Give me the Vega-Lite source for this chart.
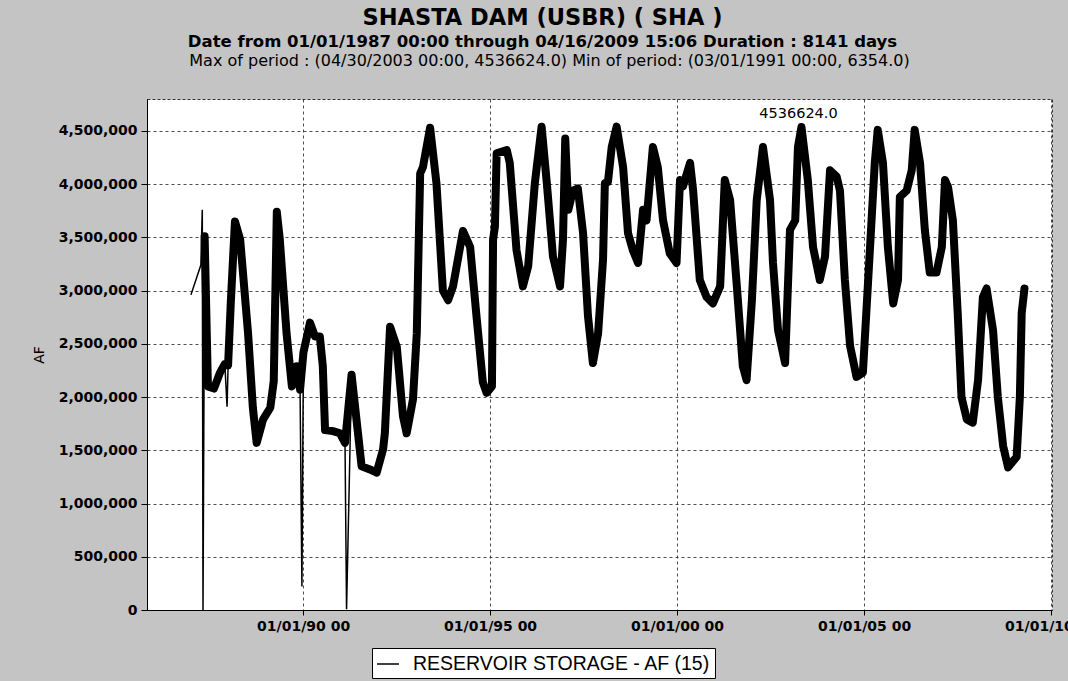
{
  "$schema": "https://vega.github.io/schema/vega-lite/v6.json",
  "width": 905,
  "height": 511,
  "autosize": {"type": "none"},
  "padding": {"left": 147, "top": 99, "right": 16, "bottom": 71},
  "background": "#c4c4c4",
  "config": {
    "view": {"fill": "white", "stroke": "#333333", "strokeDash": [3, 2]},
    "font": "DejaVu Sans"
  },
  "title": {
    "text": "SHASTA DAM  (USBR) ( SHA )",
    "subtitle": "Date from 01/01/1987 00:00 through 04/16/2009 15:06 Duration : 8141 days",
    "font": "DejaVu Sans",
    "fontSize": 22.5,
    "fontWeight": "bold",
    "color": "black",
    "subtitleFont": "DejaVu Sans",
    "subtitleFontSize": 16.5,
    "subtitleFontWeight": "bold",
    "subtitleColor": "black",
    "subtitlePadding": 4,
    "anchor": "middle",
    "frame": "group",
    "dx": -57,
    "offset": 2
  },
  "datasets": {
    "storage": [
      {"date": "1987-01-01", "af": 2960000, "kind": "spike"},
      {"date": "1987-04-08", "af": 3240000, "kind": "spike"},
      {"date": "1987-04-22", "af": 3760000, "kind": "spike"},
      {"date": "1987-04-29", "af": 0, "kind": "spike"},
      {"date": "1987-05-15", "af": 3510000},
      {"date": "1987-06-16", "af": 2100000},
      {"date": "1987-08-14", "af": 2080000},
      {"date": "1987-10-12", "af": 2230000},
      {"date": "1987-11-28", "af": 2310000},
      {"date": "1987-12-20", "af": 1910000, "kind": "spike"},
      {"date": "1987-12-30", "af": 2300000},
      {"date": "1988-01-26", "af": 2900000},
      {"date": "1988-03-06", "af": 3650000},
      {"date": "1988-04-26", "af": 3480000},
      {"date": "1988-07-12", "af": 2600000},
      {"date": "1988-08-28", "af": 1900000},
      {"date": "1988-10-04", "af": 1570000},
      {"date": "1988-12-06", "af": 1790000},
      {"date": "1989-02-14", "af": 1900000},
      {"date": "1989-03-20", "af": 2150000},
      {"date": "1989-04-19", "af": 3740000},
      {"date": "1989-05-18", "af": 3480000},
      {"date": "1989-07-23", "af": 2600000},
      {"date": "1989-09-13", "af": 2100000},
      {"date": "1989-10-30", "af": 2290000},
      {"date": "1989-12-02", "af": 2070000},
      {"date": "1989-12-20", "af": 220000, "kind": "spike"},
      {"date": "1990-01-04", "af": 2420000},
      {"date": "1990-03-09", "af": 2700000},
      {"date": "1990-04-26", "af": 2570000},
      {"date": "1990-06-13", "af": 2570000},
      {"date": "1990-07-12", "af": 2290000},
      {"date": "1990-08-03", "af": 1690000},
      {"date": "1990-10-19", "af": 1680000},
      {"date": "1990-12-27", "af": 1660000},
      {"date": "1991-02-14", "af": 1570000},
      {"date": "1991-03-01", "af": 6354, "kind": "spike"},
      {"date": "1991-04-19", "af": 2210000},
      {"date": "1991-07-26", "af": 1350000},
      {"date": "1991-10-15", "af": 1320000},
      {"date": "1991-12-20", "af": 1290000},
      {"date": "1992-02-21", "af": 1510000},
      {"date": "1992-03-09", "af": 1660000},
      {"date": "1992-04-29", "af": 2660000},
      {"date": "1992-07-04", "af": 2470000},
      {"date": "1992-09-02", "af": 1820000},
      {"date": "1992-10-08", "af": 1660000},
      {"date": "1992-12-09", "af": 1980000},
      {"date": "1993-01-15", "af": 2600000},
      {"date": "1993-02-17", "af": 4100000},
      {"date": "1993-03-16", "af": 4160000},
      {"date": "1993-05-25", "af": 4530000},
      {"date": "1993-07-26", "af": 4010000},
      {"date": "1993-09-27", "af": 3000000},
      {"date": "1993-11-17", "af": 2910000},
      {"date": "1994-01-04", "af": 3040000},
      {"date": "1994-04-11", "af": 3560000},
      {"date": "1994-06-20", "af": 3410000},
      {"date": "1994-08-21", "af": 2760000},
      {"date": "1994-10-22", "af": 2140000},
      {"date": "1994-11-28", "af": 2040000},
      {"date": "1995-01-19", "af": 2100000},
      {"date": "1995-01-30", "af": 3480000},
      {"date": "1995-02-17", "af": 3600000},
      {"date": "1995-03-06", "af": 4290000},
      {"date": "1995-06-13", "af": 4320000},
      {"date": "1995-07-12", "af": 4200000},
      {"date": "1995-09-16", "af": 3380000},
      {"date": "1995-11-17", "af": 3040000},
      {"date": "1996-01-08", "af": 3230000},
      {"date": "1996-03-13", "af": 4010000},
      {"date": "1996-05-18", "af": 4540000},
      {"date": "1996-07-08", "af": 4010000},
      {"date": "1996-09-06", "af": 3320000},
      {"date": "1996-11-14", "af": 3040000},
      {"date": "1996-12-13", "af": 3480000},
      {"date": "1997-01-04", "af": 4430000},
      {"date": "1997-02-03", "af": 3760000},
      {"date": "1997-03-20", "af": 3940000},
      {"date": "1997-05-07", "af": 3960000},
      {"date": "1997-06-27", "af": 3540000},
      {"date": "1997-08-14", "af": 2760000},
      {"date": "1997-10-01", "af": 2320000},
      {"date": "1997-11-21", "af": 2600000},
      {"date": "1998-01-08", "af": 3290000},
      {"date": "1998-01-26", "af": 4010000},
      {"date": "1998-02-25", "af": 4020000},
      {"date": "1998-04-03", "af": 4350000},
      {"date": "1998-05-21", "af": 4540000},
      {"date": "1998-07-23", "af": 4160000},
      {"date": "1998-09-09", "af": 3540000},
      {"date": "1998-10-26", "af": 3380000},
      {"date": "1998-12-16", "af": 3260000},
      {"date": "1999-02-03", "af": 3760000},
      {"date": "1999-03-09", "af": 3660000},
      {"date": "1999-05-10", "af": 4350000},
      {"date": "1999-06-27", "af": 4160000},
      {"date": "1999-08-17", "af": 3660000},
      {"date": "1999-10-22", "af": 3350000},
      {"date": "1999-12-27", "af": 3260000},
      {"date": "2000-01-30", "af": 4040000},
      {"date": "2000-02-28", "af": 3980000},
      {"date": "2000-05-07", "af": 4200000},
      {"date": "2000-06-06", "af": 3940000},
      {"date": "2000-08-10", "af": 3100000},
      {"date": "2000-10-15", "af": 2940000},
      {"date": "2000-12-16", "af": 2880000},
      {"date": "2001-02-25", "af": 3040000},
      {"date": "2001-04-11", "af": 4040000},
      {"date": "2001-06-02", "af": 3850000},
      {"date": "2001-08-07", "af": 3040000},
      {"date": "2001-10-04", "af": 2290000},
      {"date": "2001-11-10", "af": 2160000},
      {"date": "2002-01-01", "af": 2910000},
      {"date": "2002-02-17", "af": 3850000},
      {"date": "2002-04-19", "af": 4350000},
      {"date": "2002-06-27", "af": 3850000},
      {"date": "2002-07-26", "af": 3260000},
      {"date": "2002-09-13", "af": 2630000},
      {"date": "2002-11-21", "af": 2320000},
      {"date": "2003-01-08", "af": 3570000},
      {"date": "2003-02-28", "af": 3660000},
      {"date": "2003-03-27", "af": 4350000},
      {"date": "2003-04-30", "af": 4536624},
      {"date": "2003-07-01", "af": 4040000},
      {"date": "2003-08-21", "af": 3410000},
      {"date": "2003-10-26", "af": 3100000},
      {"date": "2003-12-16", "af": 3320000},
      {"date": "2004-02-03", "af": 4130000},
      {"date": "2004-04-08", "af": 4070000},
      {"date": "2004-05-10", "af": 3940000},
      {"date": "2004-06-27", "af": 3100000},
      {"date": "2004-08-17", "af": 2480000},
      {"date": "2004-10-19", "af": 2190000},
      {"date": "2004-12-20", "af": 2230000},
      {"date": "2005-02-28", "af": 3410000},
      {"date": "2005-04-15", "af": 4200000},
      {"date": "2005-05-14", "af": 4510000},
      {"date": "2005-07-04", "af": 4200000},
      {"date": "2005-08-21", "af": 3410000},
      {"date": "2005-10-12", "af": 2880000},
      {"date": "2005-11-28", "af": 3100000},
      {"date": "2005-12-16", "af": 3880000},
      {"date": "2006-02-21", "af": 3940000},
      {"date": "2006-04-11", "af": 4130000},
      {"date": "2006-05-10", "af": 4510000},
      {"date": "2006-07-01", "af": 4200000},
      {"date": "2006-08-17", "af": 3570000},
      {"date": "2006-10-04", "af": 3170000},
      {"date": "2006-12-09", "af": 3170000},
      {"date": "2007-01-30", "af": 3410000},
      {"date": "2007-03-02", "af": 4040000},
      {"date": "2007-04-01", "af": 3970000},
      {"date": "2007-05-18", "af": 3660000},
      {"date": "2007-07-04", "af": 2790000},
      {"date": "2007-08-10", "af": 2000000},
      {"date": "2007-10-01", "af": 1790000},
      {"date": "2007-11-28", "af": 1760000},
      {"date": "2008-01-19", "af": 2160000},
      {"date": "2008-03-06", "af": 2940000},
      {"date": "2008-04-11", "af": 3020000},
      {"date": "2008-06-13", "af": 2630000},
      {"date": "2008-07-30", "af": 2000000},
      {"date": "2008-09-20", "af": 1540000},
      {"date": "2008-11-07", "af": 1340000},
      {"date": "2009-01-30", "af": 1440000},
      {"date": "2009-03-02", "af": 2000000},
      {"date": "2009-03-20", "af": 2790000},
      {"date": "2009-04-16", "af": 3020000}
    ]
  },
  "resolve": {"axis": {"x": "independent"}},
  "layer": [
    {
      "data": {"name": "storage"},
      "transform": [{"filter": "datum.kind !== 'spike'"}],
      "mark": {"type": "line", "color": "black", "strokeWidth": 8, "strokeJoin": "round", "strokeCap": "round"},
      "encoding": {
        "x": {
          "field": "date", "type": "temporal",
          "scale": {"domain": [{"year": 1985, "month": 10, "date": 29}, {"year": 2010, "month": 1, "date": 10}]},
          "axis": {
            "orient": "bottom",
            "values": [{"year": 1990, "month": 1, "date": 1}, {"year": 1995, "month": 1, "date": 1}, {"year": 2000, "month": 1, "date": 1}, {"year": 2005, "month": 1, "date": 1}, {"year": 2010, "month": 1, "date": 1}],
            "format": "%m/%d/%y %H",
            "title": null,
            "labelFont": "DejaVu Sans", "labelFontSize": 14, "labelFontWeight": "bold", "labelColor": "black",
            "labelOverlap": false, "labelBound": false, "labelFlush": false, "labelPadding": 4,
            "tickSize": 5, "tickColor": "black", "domainColor": "black",
            "grid": true, "gridColor": "#222222", "gridDash": [3, 3], "gridOpacity": 0.8
          }
        },
        "y": {
          "field": "af", "type": "quantitative",
          "scale": {"domain": [0, 4800000], "nice": false},
          "axis": {
            "values": [0, 500000, 1000000, 1500000, 2000000, 2500000, 3000000, 3500000, 4000000, 4500000],
            "format": ",d",
            "title": "AF",
            "titleFont": "DejaVu Sans", "titleFontSize": 14, "titleFontWeight": "normal", "titleColor": "black", "titlePadding": 12,
            "labelFont": "DejaVu Sans", "labelFontSize": 14, "labelFontWeight": "bold", "labelColor": "black", "labelPadding": 4,
            "tickSize": 6, "tickColor": "black", "domainColor": "black",
            "grid": true, "gridColor": "#222222", "gridDash": [3, 3], "gridOpacity": 0.8
          }
        }
      }
    },
    {
      "data": {"name": "storage"},
      "mark": {"type": "line", "strokeWidth": 1.5},
      "encoding": {
        "x": {
          "field": "date", "type": "temporal",
          "scale": {"domain": [{"year": 1985, "month": 10, "date": 29}, {"year": 2010, "month": 1, "date": 10}]},
          "axis": {
            "orient": "top", "labels": false, "ticks": false, "domain": false, "grid": false,
            "title": "Max of period : (04/30/2003 00:00, 4536624.0)  Min of period: (03/01/1991 00:00, 6354.0)",
            "titleFont": "DejaVu Sans", "titleFontSize": 16, "titleFontWeight": "normal", "titleColor": "black",
            "titlePadding": 31, "titleX": 402
          }
        },
        "y": {
          "field": "af", "type": "quantitative",
          "scale": {"domain": [0, 4800000], "nice": false},
          "axis": {
            "values": [0, 500000, 1000000, 1500000, 2000000, 2500000, 3000000, 3500000, 4000000, 4500000],
            "format": ",d",
            "title": "AF",
            "titleFont": "DejaVu Sans", "titleFontSize": 14, "titleFontWeight": "normal", "titleColor": "black", "titlePadding": 12,
            "labelFont": "DejaVu Sans", "labelFontSize": 14, "labelFontWeight": "bold", "labelColor": "black", "labelPadding": 4,
            "tickSize": 6, "tickColor": "black", "domainColor": "black",
            "grid": true, "gridColor": "#222222", "gridDash": [3, 3], "gridOpacity": 0.8
          }
        },
        "color": {
          "datum": "RESERVOIR STORAGE - AF (15)", "type": "nominal",
          "scale": {"range": ["black"]},
          "legend": {
            "orient": "none", "legendX": 225, "legendY": 549, "title": null,
            "fillColor": "white", "strokeColor": "black", "padding": 4,
            "symbolType": "stroke", "symbolSize": 484, "symbolStrokeWidth": 1.5,
            "labelFont": "Liberation Sans", "labelFontSize": 19.5, "labelColor": "black", "labelOffset": 13, "labelLimit": 400
          }
        }
      }
    },
    {
      "data": {"values": [{"date": "2003-04-30", "af": 4536624, "label": "4536624.0"}]},
      "mark": {"type": "text", "dy": -13, "dx": -3, "font": "DejaVu Sans", "fontSize": 14.5, "color": "black"},
      "encoding": {
        "x": {"field": "date", "type": "temporal", "scale": {"domain": [{"year": 1985, "month": 10, "date": 29}, {"year": 2010, "month": 1, "date": 10}]}, "axis": null},
        "y": {
          "field": "af", "type": "quantitative",
          "scale": {"domain": [0, 4800000], "nice": false},
          "axis": {
            "values": [0, 500000, 1000000, 1500000, 2000000, 2500000, 3000000, 3500000, 4000000, 4500000],
            "format": ",d",
            "title": "AF",
            "titleFont": "DejaVu Sans", "titleFontSize": 14, "titleFontWeight": "normal", "titleColor": "black", "titlePadding": 12,
            "labelFont": "DejaVu Sans", "labelFontSize": 14, "labelFontWeight": "bold", "labelColor": "black", "labelPadding": 4,
            "tickSize": 6, "tickColor": "black", "domainColor": "black",
            "grid": true, "gridColor": "#222222", "gridDash": [3, 3], "gridOpacity": 0.8
          }
        },
        "text": {"field": "label"}
      }
    }
  ]
}
